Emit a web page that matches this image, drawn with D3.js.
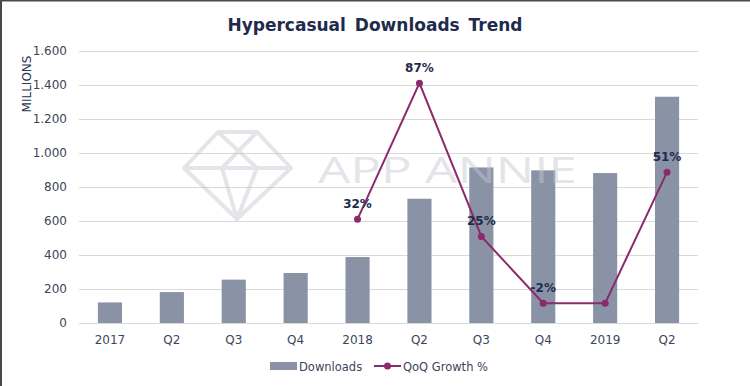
<!DOCTYPE html>
<html>
<head>
<meta charset="utf-8">
<script src="https://cdn.jsdelivr.net/npm/d3@7"></script>
<style>
  body { margin: 0; background: #fff; }
  svg { display: block; font-family: "DejaVu Sans", Verdana, sans-serif; }
</style>
</head>
<body>
<div id="chart"></div>
<script>
var categories = ["2017", "Q2", "Q3", "Q4", "2018", "Q2 ", "Q3 ", "Q4 ", "2019", "Q2  "];
var downloads = [121, 182, 255, 294, 388, 731, 915, 898, 882, 1331];
var growth = [null, null, null, null, 32, 87, 25, -2, -2, 51];
var growthLabels = [null, null, null, null, "32%", "87%", "25%", "-2%", null, "51%"];
var yTicks = [0, 200, 400, 600, 800, 1000, 1200, 1400, 1600];

var width = 750, height = 386;
var margin = {top: 51, right: 52, bottom: 63, left: 79};

var svg = d3.select("#chart").append("svg")
    .attr("width", width)
    .attr("height", height);

// frame lines on top and left
svg.append("line").attr("x1", 0).attr("x2", width).attr("y1", 0.75).attr("y2", 0.75)
    .attr("stroke", "#4a4a4a").attr("stroke-width", 1.5);
svg.append("line").attr("x1", 1).attr("x2", 1).attr("y1", 0).attr("y2", height)
    .attr("stroke", "#4a4a4a").attr("stroke-width", 2);

var x = d3.scaleBand()
    .domain(categories)
    .range([margin.left, width - margin.right])
    .paddingInner(0.61)
    .paddingOuter(0.305);

var y = d3.scaleLinear()
    .domain([0, 1600])
    .range([height - margin.bottom, margin.top]);

var y2 = d3.scaleLinear()
    .domain([-10, 100])
    .range([height - margin.bottom, margin.top]);

// gridlines
svg.append("g")
    .selectAll("line")
    .data(yTicks)
    .join("line")
    .attr("x1", margin.left)
    .attr("x2", width - margin.right)
    .attr("y1", d => Math.round(y(d)) + 0.5)
    .attr("y2", d => Math.round(y(d)) + 0.5)
    .attr("stroke", "#d9d9d9")
    .attr("stroke-width", 1.2);

// y axis labels
var fmt = d => d >= 1000 ? d3.format(",")(d).replace(",", ".") : String(d);
svg.append("g")
    .selectAll("text")
    .data(yTicks)
    .join("text")
    .attr("x", 67)
    .attr("y", d => y(d))
    .attr("dy", "0.35em")
    .attr("text-anchor", "end")
    .attr("font-size", 12)
    .attr("fill", "#3d4558")
    .text(fmt);

svg.append("text")
    .attr("transform", "translate(31," + 84 + ") rotate(-90)")
    .attr("text-anchor", "middle")
    .attr("font-size", 12)
    .attr("fill", "#2b3650")
    .text("MILLIONS");

// bars
svg.append("g")
    .selectAll("rect")
    .data(downloads)
    .join("rect")
    .attr("x", (d, i) => x(categories[i]))
    .attr("width", x.bandwidth())
    .attr("y", d => y(d))
    .attr("height", d => y(0) - y(d))
    .attr("fill", "#8a93a6");

// x labels
svg.append("g")
    .selectAll("text")
    .data(categories)
    .join("text")
    .attr("x", d => x(d) + x.bandwidth() / 2)
    .attr("y", 344)
    .attr("text-anchor", "middle")
    .attr("font-size", 12)
    .attr("fill", "#3d4558")
    .text(d => d.trim());

// watermark
var wm = svg.append("g").attr("opacity", 0.45);
var gem = [[218, 132], [257, 132], [291, 168], [237, 219], [184, 168]];
wm.append("path")
    .attr("d", d3.line()(gem) + "Z")
    .attr("fill", "none")
    .attr("stroke", "#c4c6cf")
    .attr("stroke-width", 4)
    .attr("stroke-linejoin", "round");
wm.append("path")
    .attr("d", "M184,168H291M218,132L257,168M257,132L222,168M222,168L237,219M257,168L237,219")
    .attr("fill", "none")
    .attr("stroke", "#c4c6cf")
    .attr("stroke-width", 4);
wm.append("text")
    .attr("x", 318)
    .attr("y", 183)
    .attr("font-family", "'Open Sans', 'DejaVu Sans', sans-serif")
    .attr("font-weight", 400)
    .attr("font-size", 37)
    .attr("textLength", 259)
    .attr("lengthAdjust", "spacingAndGlyphs")
    .attr("fill", "#c4c6cf")
    .text("APP ANNIE");

// growth line
var pts = growth.map((g, i) => ({g: g, c: categories[i], label: growthLabels[i]}))
    .filter(d => d.g !== null);
var cx = d => x(d.c) + x.bandwidth() / 2;

svg.append("path")
    .datum(pts)
    .attr("d", d3.line().x(cx).y(d => y2(d.g)))
    .attr("fill", "none")
    .attr("stroke", "#8b2a6c")
    .attr("stroke-width", 2);

svg.append("g")
    .selectAll("circle")
    .data(pts)
    .join("circle")
    .attr("cx", cx)
    .attr("cy", d => y2(d.g))
    .attr("r", 3.5)
    .attr("fill", "#8b2a6c");

svg.append("g")
    .selectAll("text")
    .data(pts.filter(d => d.label))
    .join("text")
    .attr("x", cx)
    .attr("y", d => y2(d.g) - 11)
    .attr("text-anchor", "middle")
    .attr("font-size", 12)
    .attr("font-weight", "bold")
    .attr("fill", "#1f2b4d")
    .text(d => d.label);

// title
svg.append("text")
    .attr("x", 375)
    .attr("y", 31)
    .attr("text-anchor", "middle")
    .attr("font-size", 17)
    .attr("font-weight", "bold")
    .attr("word-spacing", 3)
    .attr("fill", "#1f2b4d")
    .text("Hypercasual Downloads Trend");

// legend
var lg = svg.append("g");
lg.append("rect").attr("x", 270).attr("y", 362).attr("width", 27).attr("height", 8).attr("fill", "#8a93a6");
lg.append("text").attr("x", 299).attr("y", 370.5).attr("font-size", 11.5).attr("fill", "#3d4558").text("Downloads");
lg.append("line").attr("x1", 374).attr("x2", 401).attr("y1", 366).attr("y2", 366)
    .attr("stroke", "#8b2a6c").attr("stroke-width", 2);
lg.append("circle").attr("cx", 387.5).attr("cy", 366).attr("r", 3.5).attr("fill", "#8b2a6c");
lg.append("text").attr("x", 403).attr("y", 370.5).attr("font-size", 11.5).attr("fill", "#3d4558").text("QoQ Growth %");
</script>
</body>
</html>
